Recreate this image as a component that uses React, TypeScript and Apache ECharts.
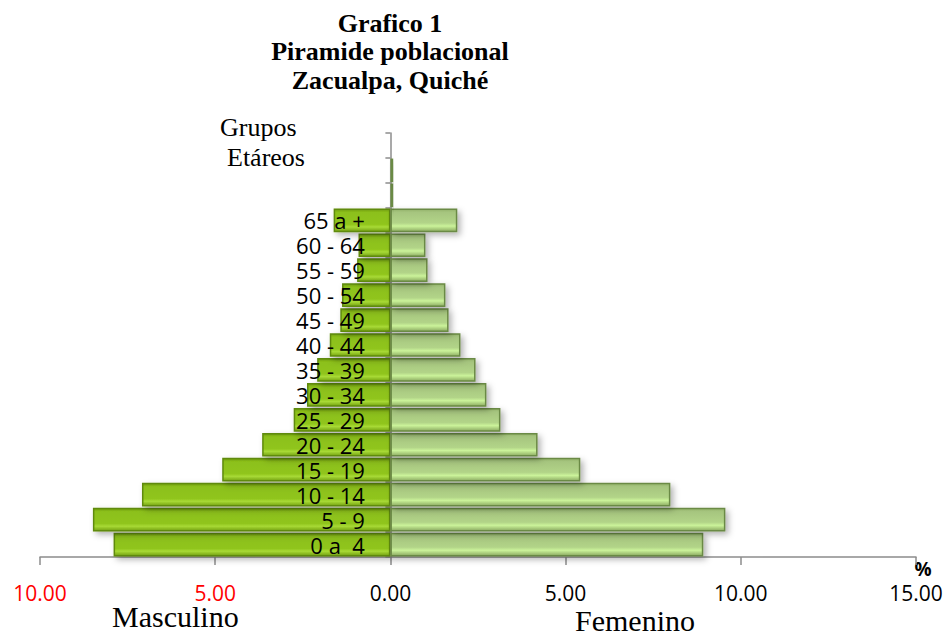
import React, { useEffect, useRef } from "react";
import * as echarts from "echarts";

const categories = ["0 a  4", "5 - 9", "10 - 14", "15 - 19", "20 - 24", "25 - 29", "30 - 34", "35 - 39", "40 - 44", "45 - 49", "50 - 54", "55 - 59", "60 - 64", "65 a +", "", "", ""];
const masculino = [7.9, 8.49, 7.09, 4.8, 3.66, 2.76, 2.38, 2.09, 1.73, 1.43, 1.38, 0.95, 0.91, 1.62, null, null, null];
const femenino = [8.93, 9.56, 7.99, 5.42, 4.2, 3.14, 2.74, 2.43, 2.0, 1.66, 1.57, 1.06, 1.0, 1.91, 0.08, 0.08, null];
const xMin = -10;
const xMax = 15;
const xStep = 5;

export default function App() {
  const ref = useRef<HTMLDivElement>(null);
  useEffect(() => {
    if (!ref.current) return;
    const chart = echarts.init(ref.current, null, { renderer: "svg" });
    const serif = "'Liberation Serif', 'Times New Roman', serif";
    const sans = "'Open Sans', sans-serif";
    const maleFill = new echarts.graphic.LinearGradient(0, 0, 0, 1, [
      { offset: 0, color: "#6f9c10" },
      { offset: 0.14, color: "#8cc01a" },
      { offset: 0.68, color: "#90c51c" },
      { offset: 0.8, color: "#a8da36" },
      { offset: 1, color: "#74a212" },
    ]);
    const femaleFill = new echarts.graphic.LinearGradient(0, 0, 0, 1, [
      { offset: 0, color: "#93b26a" },
      { offset: 0.14, color: "#a6c57f" },
      { offset: 0.62, color: "#b2d488" },
      { offset: 0.76, color: "#cbf39a" },
      { offset: 1, color: "#8cab62" },
    ]);
    const labelData = categories
      .map((c, i) => ({ c, i }))
      .filter((d) => d.c !== "")
      .map((d) => ({ value: [0, d.c], name: d.c }));
    chart.setOption({
      animation: false,
      grid: { left: 40, right: 32, top: 133, bottom: 78, containLabel: false, outerBoundsMode: "none" },
      xAxis: {
        type: "value",
        min: xMin,
        max: xMax,
        interval: xStep,
        splitLine: { show: false },
        axisLine: { show: true, lineStyle: { color: "#8c8c8c", width: 1.5 } },
        axisTick: { show: true, length: 8, lineStyle: { color: "#8c8c8c", width: 1.5 } },
        axisLabel: {
          margin: 25,
          fontFamily: sans,
          fontSize: 21,
          lineHeight: 21,
          formatter: (v: number) => Math.abs(Number(v)).toFixed(2),
          color: (v: any) => (Number(v) < 0 ? "#ff0000" : "#000000"),
        },
      },
      yAxis: {
        type: "category",
        data: categories,
        axisLine: { show: true, onZero: true, lineStyle: { color: "#8c8c8c", width: 1.5 } },
        axisTick: { show: true, length: 5, interval: 0, lineStyle: { color: "#8c8c8c", width: 1.5 } },
        axisLabel: { show: false },
        splitLine: { show: false },
      },
      series: [
        {
          name: "Masculino",
          type: "bar",
          data: masculino.map((v) => (v == null ? null : -v)),
          barGap: "-100%",
          barCategoryGap: "5%",
          itemStyle: {
            color: maleFill,
            borderColor: "#5f8a0c",
            borderWidth: 1.5,
            shadowBlur: 6,
            shadowOffsetX: 3,
            shadowOffsetY: 3,
            shadowColor: "rgba(0,0,0,0.3)",
          },
        },
        {
          name: "Femenino",
          type: "bar",
          data: femenino,
          barGap: "-100%",
          barCategoryGap: "5%",
          itemStyle: {
            color: femaleFill,
            borderColor: "#6b8a44",
            borderWidth: 1.5,
            shadowBlur: 6,
            shadowOffsetX: 3,
            shadowOffsetY: 3,
            shadowColor: "rgba(0,0,0,0.3)",
          },
        },
        {
          name: "Grupos",
          type: "scatter",
          data: labelData,
          symbolSize: 1,
          itemStyle: { color: "rgba(0,0,0,0)" },
          silent: true,
          z: 10,
          label: {
            show: true,
            position: "left",
            distance: 25,
            formatter: (p: any) => p.name,
            fontFamily: sans,
            fontSize: 22,
            lineHeight: 22,
            color: "#000000",
            opacity: 1,
            textBorderWidth: 0,
          },
        },
      ],
      graphic: [
        { type: "text", x: 390, y: 23.6, style: { text: "Grafico 1", font: `bold 26px ${serif}`, fill: "#000", textAlign: "center", textVerticalAlign: "middle" } },
        { type: "text", x: 390, y: 51.6, style: { text: "Piramide poblacional", font: `bold 26px ${serif}`, fill: "#000", textAlign: "center", textVerticalAlign: "middle" } },
        { type: "text", x: 390, y: 80.6, style: { text: "Zacualpa, Quiché", font: `bold 26px ${serif}`, fill: "#000", textAlign: "center", textVerticalAlign: "middle" } },
        { type: "text", x: 220, y: 127, style: { text: "Grupos", font: `26px ${serif}`, fill: "#000", textAlign: "left", textVerticalAlign: "middle" } },
        { type: "text", x: 227, y: 157, style: { text: "Etáreos", font: `26px ${serif}`, fill: "#000", textAlign: "left", textVerticalAlign: "middle" } },
        { type: "text", x: 112, y: 616, style: { text: "Masculino", font: `30px ${serif}`, fill: "#000", textAlign: "left", textVerticalAlign: "middle" } },
        { type: "text", x: 575, y: 620, style: { text: "Femenino", font: `30px ${serif}`, fill: "#000", textAlign: "left", textVerticalAlign: "middle" } },
        { type: "text", x: 923, y: 569, style: { text: "%", font: `bold 19px ${sans}`, fill: "#000", textAlign: "center", textVerticalAlign: "middle" } },
      ],
    });
    return () => chart.dispose();
  }, []);
  return <div ref={ref} style={{ width: 948, height: 635, position: "absolute", left: 0, top: 0 }} />;
}
